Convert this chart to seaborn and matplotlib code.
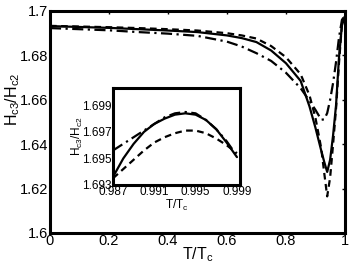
import numpy as np
import pandas as pd
import matplotlib
matplotlib.use("Agg")
import matplotlib.pyplot as plt
import seaborn as sns

# main curves
t = [0, 0.1, 0.2, 0.3, 0.4, 0.5, 0.6, 0.65, 0.7, 0.75, 0.8, 0.85, 0.88, 0.9,
     0.92, 0.93, 0.94, 0.95, 0.96, 0.97, 0.98, 0.99, 1.0]
solid = [1.6932, 1.6928, 1.6924, 1.6918, 1.6912, 1.6905, 1.6890, 1.6878, 1.6860,
         1.6822, 1.6765, 1.6685, 1.6570, 1.6475, 1.6370, 1.6320, 1.6275, 1.6330,
         1.6440, 1.6575, 1.6790, 1.6935, 1.6975]
dashed = [1.6933, 1.6930, 1.6927, 1.6923, 1.6918, 1.6912, 1.6900, 1.6890, 1.6876,
          1.6842, 1.6792, 1.6715, 1.6620, 1.6520, 1.6380, 1.6270, 1.6165, 1.6250,
          1.6400, 1.6560, 1.6765, 1.6940, 1.6975]
dashdot = [1.6923, 1.6918, 1.6913, 1.6905, 1.6898, 1.6888, 1.6862, 1.6840, 1.6810,
           1.6775, 1.6722, 1.6652, 1.6595, 1.6555, 1.6510, 1.6512, 1.6540, 1.6600,
           1.6676, 1.6770, 1.6880, 1.6960, 1.6980]

# inset (zoom near Tc)
t_in = [0.987, 0.988, 0.989, 0.990, 0.991, 0.992, 0.993, 0.994, 0.995, 0.996,
        0.997, 0.998, 0.999]
solid_in = [1.6936, 1.6950, 1.6961, 1.6970, 1.6976, 1.6980, 1.6983, 1.6984, 1.6983,
            1.6979, 1.6972, 1.6962, 1.6951]
dashed_in = [1.6935, 1.6942, 1.6949, 1.6956, 1.6962, 1.6966, 1.6969, 1.6971, 1.6971,
             1.6969, 1.6965, 1.6960, 1.6954]
dashdot_in = [1.6956, 1.6961, 1.6966, 1.6971, 1.6976, 1.6981, 1.6984, 1.6985, 1.6984,
              1.6979, 1.6972, 1.6963, 1.6952]

sns.set_style("white")
plt.rcParams['font.family'] = ['Liberation Sans', 'DejaVu Sans']
plt.rcParams['mathtext.fontset'] = 'custom'
plt.rcParams['mathtext.rm'] = 'Liberation Sans'
plt.rcParams['mathtext.it'] = 'Liberation Sans'
plt.rcParams['text.color'] = 'black'
plt.rcParams['axes.labelcolor'] = 'black'
plt.rcParams['xtick.color'] = 'black'
plt.rcParams['ytick.color'] = 'black'
plt.rcParams['axes.edgecolor'] = 'black'

df = pd.DataFrame({"t": t, "solid": solid, "dashed": dashed, "dashdot": dashdot})
df_in = pd.DataFrame({"t": t_in, "solid": solid_in, "dashed": dashed_in, "dashdot": dashdot_in})

styles = {"solid": "-", "dashed": (0, (3, 2)), "dashdot": (0, (5, 2, 1, 2))}

fig = plt.figure(figsize=(3.53, 2.72), dpi=100)
ax = fig.add_axes([0.1416, 0.1434, 0.8354, 0.8162])
for k, ls in styles.items():
    sns.lineplot(data=df, x="t", y=k, ax=ax, color="black", lw=1.6, linestyle=ls)
ax.set_xlim(0, 1)
ax.set_ylim(1.6, 1.7)
ax.set_xticks([0, 0.2, 0.4, 0.6, 0.8, 1])
ax.set_xticklabels(["0", "0.2", "0.4", "0.6", "0.8", "1"])
ax.set_yticks([1.6, 1.62, 1.64, 1.66, 1.68, 1.7])
ax.set_yticklabels(["1.6", "1.62", "1.64", "1.66", "1.68", "1.7"])
ax.tick_params(direction="in", length=2.5, width=1, labelsize=10.5, pad=1,
               top=True, right=True)
for s in ax.spines.values():
    s.set_linewidth(2.2)
    s.set_visible(True)
ax.set_xlabel("T/T$_\\mathrm{c}$", fontsize=11.5, labelpad=-2)
ax.set_ylabel("H$_\\mathrm{c3}$/H$_\\mathrm{c2}$", fontsize=11.5)
ax.yaxis.set_label_coords(-0.095, 0.6)

ins = fig.add_axes([0.320, 0.320, 0.360, 0.356])
for k, ls in styles.items():
    sns.lineplot(data=df_in, x="t", y=k, ax=ins, color="black", lw=1.6, linestyle=ls)
ins.set_xlim(0.987, 0.9993)
ins.set_ylim(1.693, 1.7003)
ins.set_xticks([0.987, 0.991, 0.995, 0.999])
ins.set_xticklabels(["0.987", "0.991", "0.995", "0.999"])
ins.set_yticks([1.693, 1.695, 1.697, 1.699])
ins.set_yticklabels(["1.693", "1.695", "1.697", "1.699"])
ins.tick_params(direction="in", length=0, labelsize=8.5, pad=1)
for s in ins.spines.values():
    s.set_linewidth(2.2)
    s.set_visible(True)
ins.set_xlabel("T/T$_\\mathrm{c}$", fontsize=8.5)
ins.set_ylabel("H$_\\mathrm{c3}$/H$_\\mathrm{c2}$", fontsize=8.5)
ins.xaxis.set_label_coords(0.5, -0.13)
ins.yaxis.set_label_coords(-0.22, 0.5)

fig.savefig("out.png", dpi=100)
